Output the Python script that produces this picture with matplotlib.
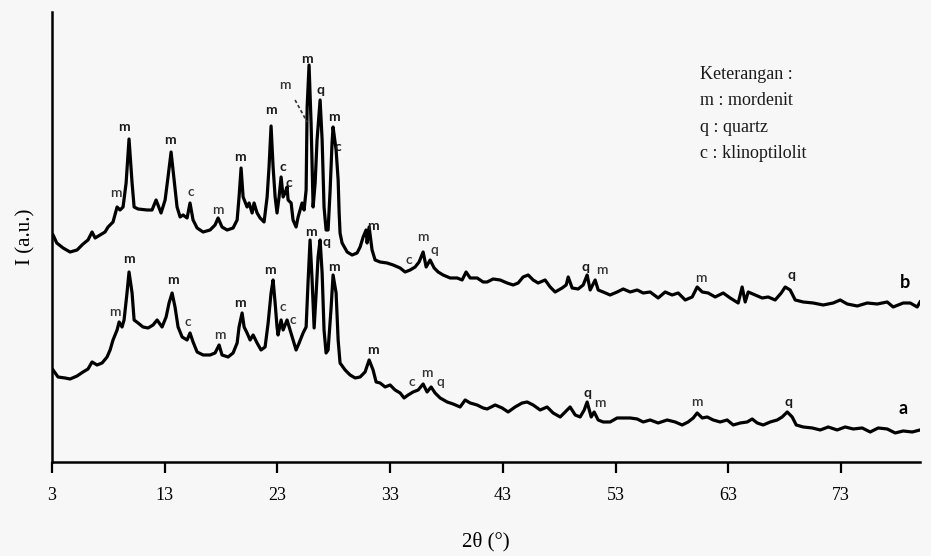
import matplotlib.pyplot as plt

# pattern b (upper trace), 2theta in degrees, intensity in a.u.
tt_b = [3.09, 3.42, 3.98, 4.60, 5.22, 5.75, 6.19, 6.55, 6.82, 7.26, 7.70, 7.97, 8.41, 8.77, 9.03,
        9.30, 9.57, 9.83, 10.10, 10.28, 10.63, 11.43, 11.87, 12.23, 12.67, 13.03, 13.29, 13.56, 13.83,
        14.09, 14.36, 14.62, 14.98, 15.24, 15.51, 15.87, 16.40, 17.02, 17.46, 17.73, 18.08, 18.53,
        19.06, 19.42, 19.59, 19.77, 19.95, 20.30, 20.48, 20.75, 20.92, 21.19, 21.46, 21.81, 22.08,
        22.25, 22.43, 22.61, 22.79, 22.96, 23.14, 23.32, 23.50, 23.67, 23.85, 23.94, 24.21, 24.38,
        24.65, 24.83, 25.18, 25.36, 25.54, 25.63, 25.80, 25.98, 26.16, 26.34, 26.51, 26.78, 26.96,
        27.13, 27.31, 27.49, 27.67, 27.84, 27.93, 28.20, 28.38, 28.47, 28.55, 28.73, 29.18, 29.62,
        30.06, 30.33, 30.60, 30.86, 30.95, 31.13, 31.39, 31.66, 32.10, 32.72, 33.26, 33.88, 34.32,
        34.77, 35.21, 35.56, 35.92, 36.19, 36.54, 36.90, 37.25, 37.69, 38.32, 38.94, 39.38, 39.73,
        40.09, 40.71, 41.24, 41.60, 42.13, 42.75, 43.37, 43.91, 44.35, 44.79, 45.24, 45.68, 46.12,
        46.74, 47.19, 47.63, 48.25, 48.61, 48.79, 49.14, 49.67, 50.12, 50.47, 50.74, 51.18, 51.45,
        51.89, 52.51, 53.13, 53.67, 54.29, 54.91, 55.44, 56.06, 56.77, 57.39, 58.01, 58.55, 59.17,
        59.79, 60.23, 60.68, 61.21, 61.83, 62.54, 63.16, 63.87, 64.22, 64.49, 64.76, 65.38, 66.00,
        66.53, 67.15, 67.69, 68.04, 68.48, 68.93, 69.64, 70.52, 71.41, 72.30, 72.92, 73.54, 74.43,
        75.32, 76.20, 77.09, 77.62, 78.51, 79.13, 79.75, 80.0]
int_b = [227, 219, 214, 210, 212, 218, 222, 230, 224, 227, 230, 235, 240, 255, 252,
         255, 279, 323, 279, 255, 253, 252, 252, 262, 249, 262, 285, 310, 282,
         255, 245, 247, 244, 259, 242, 234, 230, 232, 237, 244, 235, 232,
         234, 242, 265, 294, 265, 255, 259, 249, 259, 249, 244, 240, 265,
         295, 336, 295, 265, 249, 265, 285, 265, 269, 275, 262, 259, 242,
         235, 245, 259, 252, 272, 355, 397, 339, 255, 279, 322, 362, 322,
         255, 232, 232, 272, 319, 335, 312, 282, 249, 229, 219, 210, 207,
         209, 215, 225, 232, 219, 235, 212, 202, 200, 199, 197, 194, 190,
         192, 195, 200, 210, 195, 202, 194, 190, 187, 184, 184, 182, 190,
         184, 184, 180, 180, 183, 182, 179, 177, 179, 185, 187, 182, 179,
         182, 175, 170, 174, 177, 185, 174, 173, 177, 187, 172, 182, 172,
         170, 167, 170, 173, 170, 172, 169, 170, 164, 170, 167, 169, 162,
         165, 175, 170, 169, 165, 169, 164, 159, 175, 160, 170, 167, 164,
         165, 162, 169, 175, 172, 162, 160, 159, 157, 159, 162, 158, 156,
         159, 158, 160, 155, 159, 159, 155, 160]

# pattern a (lower trace)
tt_a = [3.09, 3.53, 4.15, 4.60, 5.22, 5.75, 6.19, 6.55, 6.99, 7.44, 7.88, 8.15, 8.41, 8.77, 8.95,
        9.21, 9.39, 9.65, 9.83, 10.10, 10.28, 10.63, 11.07, 11.52, 11.96, 12.32, 12.76, 13.12, 13.38,
        13.65, 13.91, 14.18, 14.54, 14.98, 15.24, 15.51, 15.87, 16.40, 17.02, 17.46, 17.82, 18.08,
        18.62, 19.06, 19.42, 19.59, 19.86, 20.04, 20.30, 20.57, 20.84, 21.19, 21.54, 21.90, 22.17,
        22.43, 22.61, 22.79, 22.96, 23.05, 23.32, 23.50, 23.67, 23.85, 24.12, 24.38, 24.65, 24.92,
        25.27, 25.54, 25.72, 25.89, 26.07, 26.25, 26.43, 26.60, 26.78, 26.96, 27.13, 27.31, 27.49,
        27.76, 27.93, 28.20, 28.38, 28.55, 29.00, 29.44, 29.89, 30.33, 30.77, 31.13, 31.48, 31.75,
        32.10, 32.55, 32.99, 33.43, 33.88, 34.23, 34.59, 35.03, 35.48, 35.92, 36.27, 36.63, 36.98,
        37.43, 38.05, 38.58, 39.20, 39.65, 40.09, 40.71, 41.24, 41.60, 42.31, 42.93, 43.46, 44.08,
        44.70, 45.15, 45.68, 46.30, 46.92, 47.45, 48.08, 48.52, 48.96, 49.41, 49.85, 50.21, 50.47,
        50.83, 51.09, 51.45, 51.89, 52.51, 53.13, 53.67, 54.29, 54.91, 55.44, 56.06, 56.77, 57.57,
        58.28, 58.90, 59.43, 59.88, 60.23, 60.68, 61.12, 61.65, 62.27, 62.89, 63.43, 64.05, 64.67,
        65.11, 65.56, 66.09, 66.71, 67.33, 67.77, 68.22, 68.66, 69.02, 69.64, 70.44, 71.15, 71.86,
        72.65, 73.36, 74.08, 74.87, 75.58, 76.29, 77.09, 77.80, 78.51, 79.31, 80.0]
int_a = [92, 85, 84, 83, 86, 90, 93, 100, 97, 99, 105, 112, 122, 132, 140,
         135, 142, 169, 190, 169, 142, 139, 135, 134, 137, 142, 135, 145, 159,
         169, 155, 135, 125, 122, 129, 120, 110, 107, 107, 109, 117, 107,
         105, 109, 119, 135, 149, 135, 129, 122, 127, 119, 112, 115, 139,
         169, 182, 159, 135, 127, 142, 132, 137, 142, 132, 122, 112, 119,
         129, 135, 182, 222, 182, 134, 169, 205, 222, 189, 132, 109, 112,
         155, 187, 169, 122, 99, 92, 87, 84, 85, 90, 102, 92, 80,
         79, 75, 77, 72, 69, 64, 67, 70, 72, 78, 70, 75, 69,
         64, 60, 58, 55, 62, 59, 57, 54, 53, 57, 54, 50, 55,
         59, 60, 57, 52, 55, 49, 45, 50, 55, 47, 45, 52, 60,
         45, 50, 42, 40, 40, 44, 44, 44, 43, 40, 42, 39, 42,
         40, 37, 40, 44, 49, 44, 45, 42, 40, 42, 37, 39, 40,
         43, 39, 37, 40, 42, 45, 50, 45, 37, 35, 34, 32, 35,
         32, 35, 33, 34, 30, 34, 33, 29, 31, 30, 32]

# phase marks: (2theta, height, letter, bold)
marks_b = [(8.68, 269, 'm', False), (9.39, 335, 'm', True), (13.47, 322, 'm', True),
           (15.33, 270, 'c', False), (17.73, 252, 'm', False), (19.68, 305, 'm', True),
           (22.43, 352, 'm', True), (23.50, 295, 'c', True), (24.03, 279, 'c', True),
           (23.67, 377, 'm', False), (25.63, 403, 'm', True), (26.78, 372, 'q', True),
           (28.02, 345, 'm', True), (28.38, 315, 'c', True), (31.48, 236, 'm', True),
           (34.68, 202, 'c', False), (35.92, 225, 'm', False), (36.90, 212, 'q', False),
           (50.30, 195, 'q', True), (51.80, 192, 'm', False), (60.59, 184, 'm', False),
           (68.57, 187, 'q', True)]
marks_a = [(8.59, 150, 'm', False), (9.83, 203, 'm', True), (13.74, 182, 'm', True),
           (15.07, 140, 'c', False), (17.91, 127, 'm', False), (19.68, 159, 'm', True),
           (22.34, 192, 'm', True), (23.50, 155, 'c', False), (24.38, 142, 'c', False),
           (25.98, 230, 'm', True), (27.31, 220, 'q', True), (28.02, 195, 'm', True),
           (31.48, 112, 'm', True), (34.94, 80, 'c', False), (36.27, 89, 'm', False),
           (37.43, 80, 'q', False), (50.47, 69, 'q', True), (51.63, 59, 'm', False),
           (60.23, 60, 'm', False), (68.31, 60, 'q', True)]

xticks = [3, 13, 23, 33, 43, 53, 63, 73]
legend_lines = ['Keterangan :', 'm : mordenit', 'q : quartz', 'c : klinoptilolit']

bg = '#f7f7f7'
fig = plt.figure(figsize=(9.31, 5.56), dpi=100, facecolor=bg)
ax = fig.add_axes([0.0559, 0.1691, 0.9323, 0.8093])
ax.set_facecolor(bg)

ax.plot(tt_b, int_b, color='black', lw=2.3, solid_joinstyle='round')
ax.plot(tt_a, int_a, color='black', lw=2.3, solid_joinstyle='round')

for x, y, t, b in marks_b + marks_a:
    ax.text(x, y, t, ha='center', va='center', fontsize=10,
            fontweight='bold' if b else 'semibold', color='#1a1a1a' if b else '#333333',
            family=['Lato', 'DejaVu Sans'])

# dashed pointer for the shoulder mark
ax.plot([24.56, 25.63], [362, 340], color='#333333', lw=1.2, ls=(0, (2, 1.5)))

ax.text(78.7, 179, 'b', ha='center', va='center', fontsize=13, fontweight='bold',
        family=['Lato', 'DejaVu Sans'])
ax.text(78.5, 53, 'a', ha='center', va='center', fontsize=13, fontweight='bold',
        family=['Lato', 'DejaVu Sans'])

for i, line in enumerate(legend_lines):
    ax.text(0.746, 0.862 - i * 0.059, line, transform=ax.transAxes, ha='left', va='center',
            fontsize=13, family='Liberation Serif', color='#1a1a1a')

ax.set_xlim(3, 80)
ax.set_ylim(0, 450)
ax.set_xticks(xticks)
ax.set_xticklabels([str(v) for v in xticks], family='Liberation Serif', fontsize=13)
ax.set_yticks([])
ax.tick_params(axis='x', direction='out', length=8, width=1.6, pad=10)
for s in ['top', 'right']:
    ax.spines[s].set_visible(False)
for s in ['left', 'bottom']:
    ax.spines[s].set_linewidth(1.8)

ax.set_xlabel('2θ (°)', family='Liberation Serif', fontsize=15, labelpad=20)
ax.set_ylabel('I (a.u.)', family='Liberation Serif', fontsize=15, labelpad=12)

fig.savefig('out.png', dpi=100, facecolor=bg)
